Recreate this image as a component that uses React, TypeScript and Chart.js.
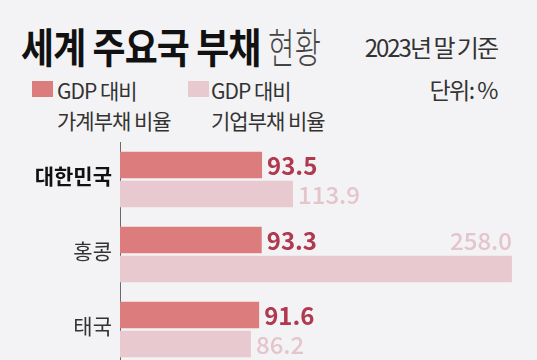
import React, { useEffect, useRef } from "react";
import { Chart, registerables } from "chart.js";

Chart.register(...registerables);

const categories = ["대한민국", "홍콩", "태국"];
const householdDebt = [93.5, 93.3, 91.6];
const corporateDebt = [113.9, 258.0, 86.2];
const seriesNames = ["GDP 대비 가계부채 비율", "GDP 대비 기업부채 비율"];

const FONT = '"Noto Sans CJK KR", "Noto Sans", sans-serif';
const BG = "#f3f3f5";
const barColors = ["#dd7c7d", "#e8c9cf"];
const labelColors = ["#b0384f", "#e4c5cb"];

const valueLabels = {
  id: "valueLabels",
  afterDatasetsDraw(chart: any) {
    const ctx = chart.ctx;
    const area = chart.chartArea;
    chart.data.datasets.forEach((ds: any, di: number) => {
      const meta = chart.getDatasetMeta(di);
      meta.data.forEach((bar: any, i: number) => {
        const text = Number(ds.data[i]).toFixed(1);
        ctx.save();
        ctx.font = (di === 0 ? "bold " : "500 ") + "24px " + FONT;
        ctx.fillStyle = labelColors[di];
        ctx.textBaseline = "middle";
        const w = ctx.measureText(text).width;
        let x = bar.x + 5;
        let y = bar.y;
        ctx.textAlign = "left";
        if (x + w > area.right && di > 0) {
          ctx.textAlign = "right";
          x = bar.x;
          y = chart.getDatasetMeta(0).data[i].y;
        }
        ctx.fillText(text, x, y + 1);
        ctx.restore();
      });
    });
  },
};

export default function App() {
  const ref = useRef<HTMLCanvasElement | null>(null);
  useEffect(() => {
    if (!ref.current) return;
    const chart = new Chart(ref.current, {
      type: "bar",
      data: {
        labels: categories,
        datasets: [
          {
            label: seriesNames[0],
            data: householdDebt,
            backgroundColor: barColors[0],
            categoryPercentage: 0.77,
            barPercentage: 0.92,
          },
          {
            label: seriesNames[1],
            data: corporateDebt,
            backgroundColor: barColors[1],
            categoryPercentage: 0.77,
            barPercentage: 0.92,
          },
        ],
      },
      options: {
        indexAxis: "y",
        responsive: false,
        animation: false,
        layout: { padding: { top: 142, left: 0, right: 0, bottom: 0 } },
        plugins: { legend: { display: false }, tooltip: { enabled: false } },
        scales: {
          x: { display: false, min: 0, max: 274.5 },
          y: {
            afterFit: (s: any) => {
              s.width = 120;
              s.paddingTop = 0;
              s.paddingBottom = 0;
            },
            grid: { display: false, drawTicks: false },
            border: { display: true, color: "#6a6a6a", width: 1 },
            ticks: {
              padding: 8,
              labelOffset: -3,
              font: (c: any) => ({
                family: FONT,
                size: 21,
                weight: c.index === 0 ? "bold" : "normal",
              }),
              color: (c: any) => (c.index === 0 ? "#111111" : "#333333"),
            },
          },
        },
      },
      plugins: [valueLabels],
    } as any);
    return () => chart.destroy();
  }, []);

  const abs = (o: React.CSSProperties): React.CSSProperties => ({
    position: "absolute",
    whiteSpace: "nowrap",
    fontFamily: FONT,
    ...o,
  });

  return (
    <div
      style={{
        position: "fixed",
        left: 0,
        top: 0,
        width: 537,
        height: 360,
        overflow: "hidden",
        background: BG,
      }}
    >
      <div
        style={abs({
          left: 21,
          top: 23,
          fontSize: 41,
          lineHeight: "44px",
          fontWeight: 700,
          color: "#111",
          transform: "scaleX(0.875)",
          transformOrigin: "left top",
          letterSpacing: -1,
        })}
      >
        세계 주요국 부채
      </div>
      <div
        style={abs({
          left: 268,
          top: 23,
          fontSize: 41,
          lineHeight: "44px",
          fontWeight: 300,
          color: "#444",
          transform: "scaleX(0.7)",
          transformOrigin: "left top",
        })}
      >
        현황
      </div>
      <div
        style={abs({
          right: 40,
          top: 33,
          fontSize: 24,
          lineHeight: "28px",
          fontWeight: 400,
          color: "#333",
          letterSpacing: -2,
        })}
      >
        2023년 말 기준
      </div>
      <div
        style={abs({
          right: 40,
          top: 75,
          fontSize: 23,
          lineHeight: "28px",
          color: "#333",
          letterSpacing: -1.5,
        })}
      >
        단위: %
      </div>
      <div style={abs({ left: 32, top: 81, width: 21, height: 16, background: barColors[0] })} />
      <div
        style={abs({
          left: 57,
          top: 75,
          fontSize: 21,
          lineHeight: "30px",
          color: "#333",
          whiteSpace: "pre",
          letterSpacing: -1,
        })}
      >
        {"GDP 대비\n가계부채 비율"}
      </div>
      <div style={abs({ left: 188, top: 81, width: 21, height: 16, background: barColors[1] })} />
      <div
        style={abs({
          left: 211,
          top: 75,
          fontSize: 21,
          lineHeight: "30px",
          color: "#333",
          whiteSpace: "pre",
          letterSpacing: -1,
        })}
      >
        {"GDP 대비\n기업부채 비율"}
      </div>
      <canvas
        ref={ref}
        width={537}
        height={367}
        style={{ position: "absolute", left: 0, top: 0, width: 537, height: 367 }}
      />
    </div>
  );
}
